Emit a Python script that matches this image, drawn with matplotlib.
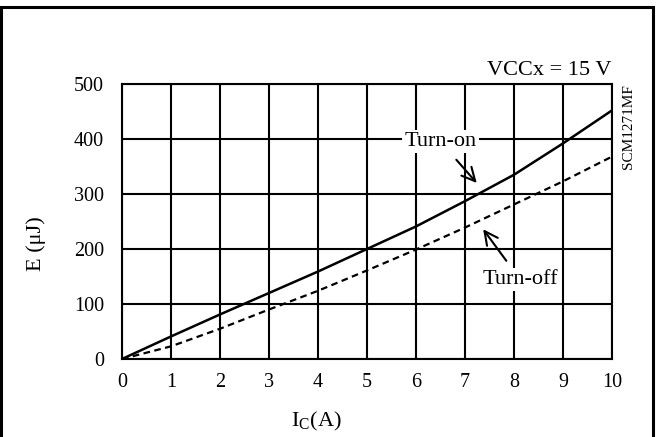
import numpy as np
import matplotlib
matplotlib.use("Agg")
import matplotlib.pyplot as plt
from matplotlib.patches import Rectangle

# collector current (A)
ic = [0, 1, 2, 3, 4, 5, 6, 7, 8, 9, 10]
# switching energy (uJ)
e_on = [0, 41, 81, 120, 159, 200, 241, 287, 335, 392, 452]
e_off = [0, 23, 55, 90, 124, 161, 199, 239, 281, 323, 368]

x_ticks = [0, 1, 2, 3, 4, 5, 6, 7, 8, 9, 10]
y_ticks = [0, 100, 200, 300, 400, 500]

plt.rcParams['font.family'] = ['Liberation Serif', 'DejaVu Serif']
plt.rcParams['mathtext.fontset'] = 'custom'
plt.rcParams['mathtext.rm'] = 'Liberation Serif'

fig = plt.figure(figsize=(6.57, 4.37), dpi=100)
ax = fig.add_axes([0.1857, 0.1785, 0.9315 - 0.1857, 0.8078 - 0.1785])

# outer frame of the figure
fig.patches.append(Rectangle((0.001, -0.05), 0.993, 1.035, transform=fig.transFigure,
                             fill=False, edgecolor='black', lw=2.2))

ax.plot(ic, e_on, 'k-', lw=1.8, zorder=3)
ax.plot(ic, e_off, 'k--', lw=1.6, dashes=(3, 2), zorder=3)

ax.set_xlim(0, 10)
ax.set_ylim(0, 500)
ax.set_xticks(x_ticks)
ax.set_yticks(y_ticks)
ax.grid(True, color='black', lw=1.5)
ax.tick_params(length=0, labelsize=14.5)
ax.tick_params(axis='y', pad=13)
ax.tick_params(axis='x', pad=10)
for s in ax.spines.values():
    s.set_linewidth(1.5)

ax.set_xlabel(r"I$_\mathregular{C}$(A)", fontsize=16)
ax.set_ylabel("E (μJ)", fontsize=16)
ax.xaxis.set_label_coords(0.396, -0.186)
ax.yaxis.set_label_coords(-0.155, 0.42)

ax.text(1.0, 1.015, "VCCx = 15 V", transform=ax.transAxes, ha='right', va='bottom',
        fontsize=16)
ax.text(1.02, 1.0, "SCM1271MF", transform=ax.transAxes, rotation=90, ha='left', va='top',
        fontsize=11)

ax.annotate("Turn-on", xy=(7.24, 320), xytext=(6.5, 395), ha='center', va='center',
            fontsize=16, zorder=4,
            bbox=dict(boxstyle='square,pad=0.1', fc='white', ec='none'),
            arrowprops=dict(arrowstyle='->,head_length=0.6,head_width=0.3', color='black',
                            lw=1.5, shrinkA=6, shrinkB=0))
ax.annotate("Turn-off", xy=(7.37, 236), xytext=(8.12, 145), ha='center', va='center',
            fontsize=16, zorder=4,
            bbox=dict(boxstyle='square,pad=0.1', fc='white', ec='none'),
            arrowprops=dict(arrowstyle='->,head_length=0.6,head_width=0.3', color='black',
                            lw=1.5, shrinkA=6, shrinkB=0))

fig.savefig("out.png", dpi=100)
